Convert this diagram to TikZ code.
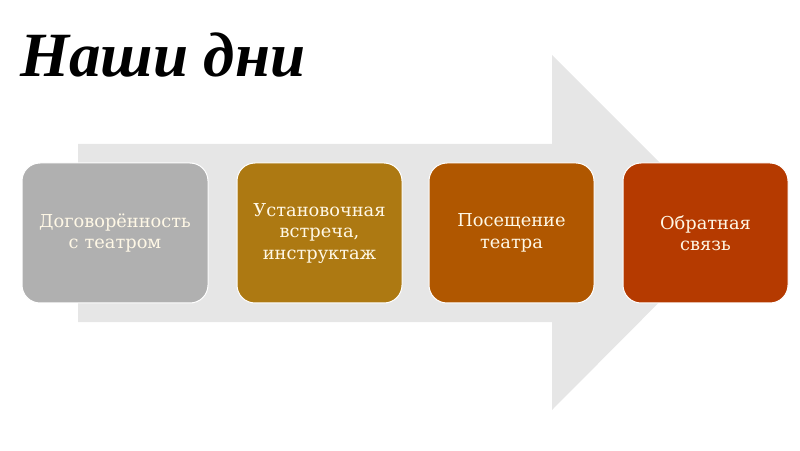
\documentclass[tikz,border=0pt]{standalone}
\usepackage{fontspec}
\setmainfont{DejaVu Serif}
\newfontfamily\titlefont{Liberation Serif}
\usetikzlibrary{positioning}
\definecolor{arrowgray}{HTML}{E6E6E6}
\definecolor{stagegray}{HTML}{B0B0B0}
\definecolor{stageochre}{HTML}{AD7912}
\definecolor{stageamber}{HTML}{B05700}
\definecolor{stagerust}{HTML}{B53A00}
\definecolor{stagetext}{HTML}{FFF8E6}
\tikzset{
  stage/.style={
    rectangle,
    rounded corners=18pt,
    draw=white,
    line width=1pt,
    minimum height=140pt,
    minimum width=165pt,
    text width=160pt,
    align=center,
    inner sep=0,
    text=stagetext,
    font=\fontsize{17.8}{21.5}\selectfont,
    node distance=26pt,
  },
  st0/.style={
    stage,
    fill=stagegray,
    minimum width=186pt,
    text width=180pt
  },
  st1/.style={
    stage,
    fill=stageochre
  },
  st2/.style={
    stage,
    fill=stageamber
  },
  st3/.style={
    stage,
    fill=stagerust
  },
  headline/.style={
    font=\titlefont\bfseries\itshape\fontsize{63}{70}\selectfont,
    anchor=base west,
    inner sep=0
  }
}

\begin{document}
\begin{tikzpicture}[x=1pt,y=1pt]
  \useasboundingbox (0,0) rectangle (800,450);

  % big background arrow
  \fill[arrowgray] (78,306) -- (552,306) -- (552,395) -- (729,218)
    -- (552,40) -- (552,128) -- (78,128) -- cycle;

  \node[headline] at (20,373) (title) {Наши дни};

  \node[st0] at (115,217) (s0) {Договорённость\\с театром};
  \node[st1,right=28pt of s0] (s1) {Установочная\\встреча,\\инструктаж};
  \node[st2,right=of s1] (s2) {Посещение\\театра};
  \node[st3,right=28pt of s2] (s3) {Обратная\\связь};
\end{tikzpicture}
\end{document}
